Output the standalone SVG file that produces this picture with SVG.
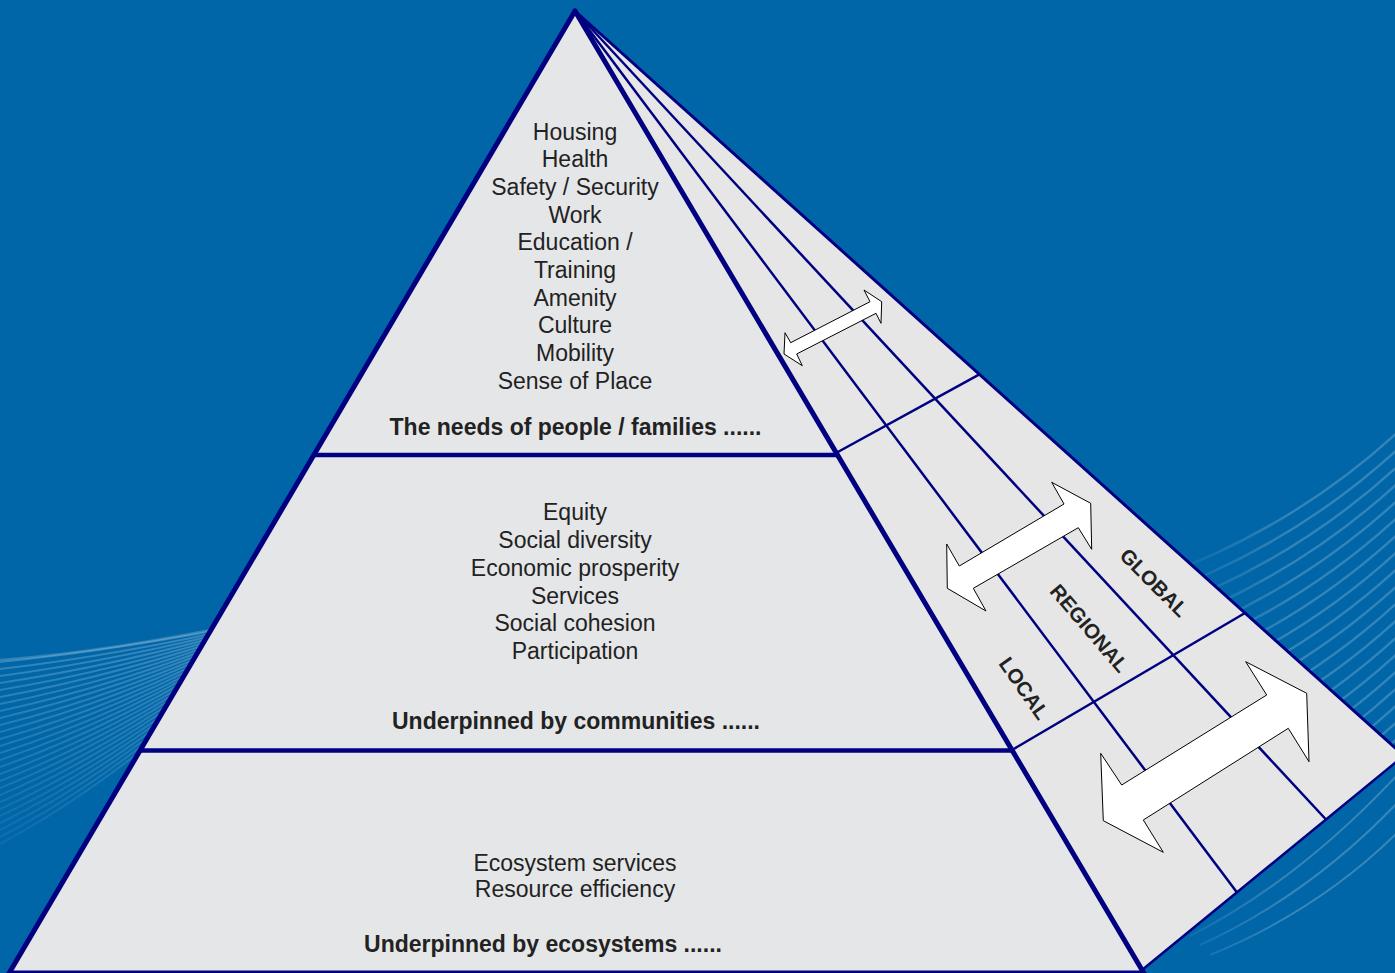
<svg xmlns="http://www.w3.org/2000/svg" width="1395" height="973" viewBox="0 0 1395 973">
<defs>
<style>
.bg{fill:#0066a8}
.wave{fill:none;stroke:#ffffff;stroke-opacity:0.2;stroke-width:2.4}
.wavefine{fill:none;stroke:#ffffff;stroke-opacity:0.22;stroke-width:2}
.face{fill:#e5e6e8}
.side{fill:#e6e6e6}
.edge{stroke:#000080;stroke-width:5;fill:none;stroke-linecap:round}
.outer{stroke:#000080;stroke-width:3;fill:none}
.tier{stroke:#000080;stroke-width:4.5;fill:none}
.thin{stroke:#000080;stroke-width:2.5;fill:none}
.arrow{fill:#ffffff;stroke:#000000;stroke-width:1}
.t{font-family:"Liberation Sans",Arial,sans-serif;font-size:23px;fill:#222222;text-anchor:middle}
.b{font-weight:bold}
.lab{font-family:"Liberation Sans",Arial,sans-serif;font-size:20.5px;font-weight:bold;fill:#222222;text-anchor:middle}
</style>
<linearGradient id="fadeR" gradientUnits="userSpaceOnUse" x1="1150" y1="0" x2="1290" y2="0">
<stop offset="0" stop-color="#fff" stop-opacity="0"/>
<stop offset="1" stop-color="#fff" stop-opacity="1"/>
</linearGradient>
<mask id="mR" maskUnits="userSpaceOnUse" x="1100" y="380" width="300" height="593">
<rect x="1100" y="380" width="300" height="593" fill="url(#fadeR)"/>
</mask>
<linearGradient id="fadeL" gradientUnits="userSpaceOnUse" x1="0" y1="640" x2="0" y2="870">
<stop offset="0" stop-color="#fff" stop-opacity="1"/>
<stop offset="1" stop-color="#fff" stop-opacity="0.15"/>
</linearGradient>
<mask id="mL" maskUnits="userSpaceOnUse" x="0" y="600" width="300" height="300">
<rect x="0" y="600" width="300" height="300" fill="url(#fadeL)"/>
</mask>
</defs>

<g id="background">
<rect class="bg" x="0" y="0" width="1395" height="973"/>
<g id="waves-right" mask="url(#mR)">
<path class="wave" d="M1150,580 Q1292,530 1400,430"/>
<path class="wave" d="M1150,597 Q1292,547 1400,447"/>
<path class="wave" d="M1150,614 Q1292,564 1400,464"/>
<path class="wave" d="M1150,631 Q1292,581 1400,481"/>
<path class="wave" d="M1150,648 Q1292,598 1400,498"/>
<path class="wave" d="M1150,665 Q1292,615 1400,515"/>
<path class="wave" d="M1150,682 Q1292,632 1400,532"/>
<path class="wave" d="M1150,699 Q1292,649 1400,549"/>
<path class="wave" d="M1150,716 Q1292,666 1400,566"/>
<path class="wave" d="M1150,733 Q1292,683 1400,583"/>
<path class="wave" d="M1150,750 Q1292,700 1400,600"/>
<path class="wave" d="M1150,767 Q1292,717 1400,617"/>
<path class="wave" d="M1150,784 Q1292,734 1400,634"/>
<path class="wave" d="M1150,801 Q1292,751 1400,651"/>
<path class="wave" d="M1150,818 Q1292,768 1400,668"/>
<path class="wave" d="M1150,835 Q1292,785 1400,685"/>
<path class="wave" d="M1150,852 Q1292,802 1400,702"/>
<path class="wave" d="M1150,869 Q1292,819 1400,719"/>
<path class="wave" d="M1150,886 Q1292,836 1400,736"/>
<path class="wave" d="M1150,903 Q1292,853 1400,753"/>
<path class="wavefine" d="M1190,936 Q1300,880 1400,772"/>
<path class="wavefine" d="M1200,945 Q1310,895 1400,800"/>
<path class="wavefine" d="M1210,955 Q1320,910 1400,830"/>
</g>
<g id="waves-left" mask="url(#mL)">
<path class="wave" stroke-opacity="0.3" stroke-width="5" d="M0,660 Q110,652 260,620"/>
<path class="wavefine" d="M0,662 Q120,650 260,622"/>
<path class="wavefine" d="M0,669 Q120,655 260,623"/>
<path class="wavefine" d="M0,676 Q120,660 260,624"/>
<path class="wavefine" d="M0,683 Q120,665 260,625"/>
<path class="wavefine" d="M0,690 Q120,670 260,626"/>
<path class="wavefine" d="M0,697 Q120,675 260,627"/>
<path class="wavefine" d="M0,704 Q120,680 260,628"/>
<path class="wavefine" d="M0,711 Q120,685 260,629"/>
<path class="wavefine" d="M0,718 Q120,690 260,630"/>
<path class="wavefine" d="M0,725 Q120,695 260,631"/>
<path class="wavefine" d="M0,732 Q120,700 260,632"/>
<path class="wavefine" d="M0,739 Q120,705 260,633"/>
<path class="wavefine" d="M0,746 Q120,710 260,634"/>
<path class="wavefine" d="M0,753 Q120,715 260,635"/>
<path class="wavefine" d="M0,760 Q120,720 260,636"/>
<path class="wavefine" d="M0,767 Q120,725 260,637"/>
<path class="wavefine" d="M0,774 Q120,730 260,638"/>
<path class="wavefine" d="M0,781 Q120,735 260,639"/>
<path class="wavefine" d="M0,788 Q120,740 260,640"/>
<path class="wavefine" d="M0,795 Q120,745 260,641"/>
<path class="wavefine" d="M0,802 Q120,750 260,642"/>
<path class="wavefine" d="M0,809 Q120,755 260,643"/>
<path class="wavefine" d="M0,816 Q120,760 260,644"/>
<path class="wavefine" d="M0,823 Q120,765 260,645"/>
<path class="wavefine" d="M0,830 Q120,770 260,646"/>
<path class="wavefine" d="M0,837 Q120,775 260,647"/>
<path class="wavefine" d="M0,844 Q120,780 260,648"/>
</g>
</g>

<g id="side-face">
<polygon class="side" points="575,11 1403.9,755.7 1142,970"/>
<line class="thin" x1="575" y1="11" x2="1237" y2="892.5"/>
<line class="thin" x1="575" y1="11" x2="1326" y2="819.5"/>
<line class="thin" x1="836" y1="453" x2="979.4" y2="374.3"/>
<line class="thin" x1="1012" y1="750" x2="1245" y2="613"/>
<line class="outer" x1="575" y1="11" x2="1403.9" y2="755.7"/>
<line class="thin" x1="1142" y1="970" x2="1403.9" y2="755.7"/>
</g>

<g id="scale-labels">
<text class="lab" transform="translate(1154,582.7) rotate(45)" y="7">GLOBAL</text>
<text class="lab" transform="translate(1089.3,628.3) rotate(49.5)" y="7">REGIONAL</text>
<text class="lab" transform="translate(1024,688.3) rotate(55)" y="7">LOCAL</text>
</g>

<g id="front-face">
<polygon class="face" points="575,11 8.2,973 1143.8,973"/>
</g>

<g id="tier-people">
<text class="t" x="575" y="139.5">Housing</text>
<text class="t" x="575" y="167.2">Health</text>
<text class="t" x="575" y="194.9">Safety / Security</text>
<text class="t" x="575" y="222.6">Work</text>
<text class="t" x="575" y="250.3">Education /</text>
<text class="t" x="575" y="278">Training</text>
<text class="t" x="575" y="305.7">Amenity</text>
<text class="t" x="575" y="333.4">Culture</text>
<text class="t" x="575" y="361.1">Mobility</text>
<text class="t" x="575" y="388.8">Sense of Place</text>
<text class="t b" x="575.5" y="434.5">The needs of people / families ......</text>
</g>

<g id="tier-communities">
<text class="t" x="575" y="520.2">Equity</text>
<text class="t" x="575" y="548">Social diversity</text>
<text class="t" x="575" y="575.8">Economic prosperity</text>
<text class="t" x="575" y="603.6">Services</text>
<text class="t" x="575" y="631.4">Social cohesion</text>
<text class="t" x="575" y="659.2">Participation</text>
<text class="t b" x="576" y="728.5">Underpinned by communities ......</text>
</g>

<g id="tier-ecosystems">
<text class="t" x="575" y="870.5">Ecosystem services</text>
<text class="t" x="575" y="897">Resource efficiency</text>
<text class="t b" x="543" y="951.5">Underpinned by ecosystems ......</text>
</g>

<g id="pyramid-lines">
<line class="tier" x1="313.5" y1="455" x2="837" y2="455"/>
<line class="tier" x1="140" y1="750.5" x2="1012" y2="750.5"/>
<line class="thin" x1="8" y1="971.8" x2="1143" y2="971.8"/>
<line class="edge" x1="575" y1="11" x2="8" y2="975"/>
<line class="edge" x1="575" y1="11" x2="1145" y2="975"/>
</g>

<g id="connectors">
<polygon class="arrow" points="785,332.7 790.7,342.7 870,301.7 864,290 881.7,301.7 881,323.3 876,313.3 796.7,354 802.3,365.7 784,354"/>
<polygon class="arrow" points="946.7,544 959.3,566 1064,504 1051.7,482.3 1090.7,503.3 1091.7,549.3 1078.3,527.7 973.3,588.3 986,611 947.3,588.3"/>
<polygon class="arrow" points="1100.7,753.3 1121.7,785 1266.7,695 1245.7,661.7 1306.7,693.3 1309,761.7 1288.3,728.3 1143.3,820 1163.3,852.3 1103.3,820.7"/>
</g>
</svg>
